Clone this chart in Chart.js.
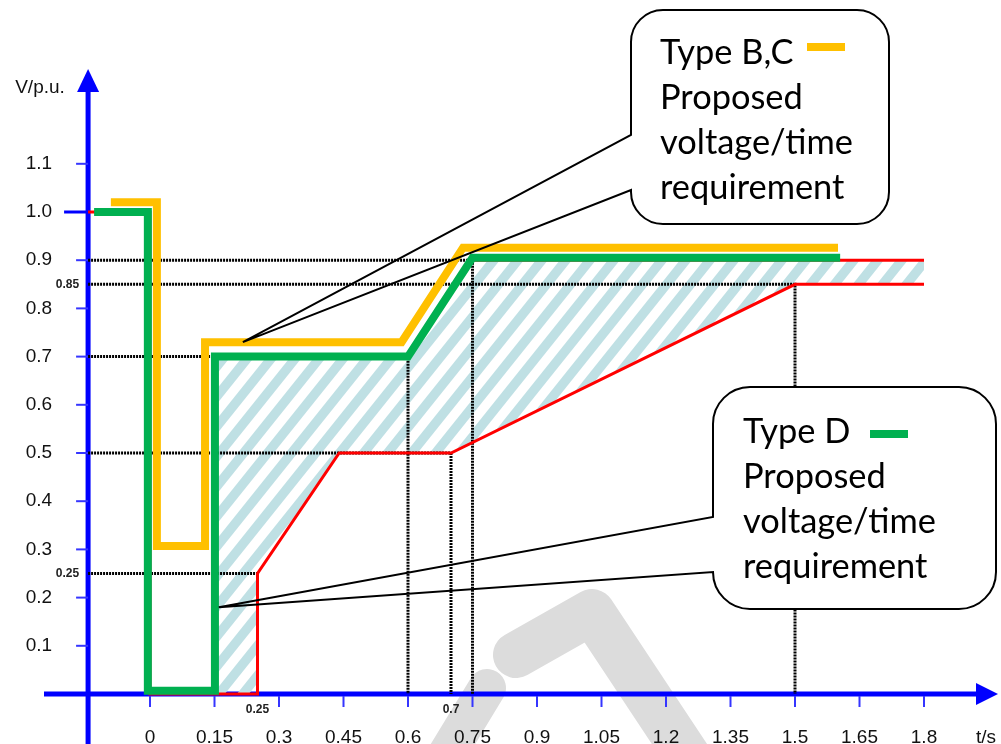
<!DOCTYPE html>
<html lang="en">
<head>
<meta charset="UTF-8">
<title>Proposed voltage/time requirement</title>
<script src="https://cdn.jsdelivr.net/npm/chart.js"></script>
<style>
  html, body { margin: 0; padding: 0; background: #fff; }
  canvas { display: block; }
</style>
</head>
<body>
<canvas id="chart" width="1001" height="744"></canvas>
<script>
  // tick values and labels
  const xTicks = [0, 0.15, 0.3, 0.45, 0.6, 0.75, 0.9, 1.05, 1.2, 1.35, 1.5, 1.65, 1.8];
  const xTickLabels = ['0', '0.15', '0.3', '0.45', '0.6', '0.75', '0.9', '1.05', '1.2', '1.35', '1.5', '1.65', '1.8'];
  const yTicks = [0.1, 0.2, 0.3, 0.4, 0.5, 0.6, 0.7, 0.8, 0.9, 1.0, 1.1];
  const yTickLabels = ['0.1', '0.2', '0.3', '0.4', '0.5', '0.6', '0.7', '0.8', '0.9', '1.0', '1.1'];

  // Type B,C proposed (yellow)
  const typeBCTime = [-0.091, 0.016, 0.016, 0.128, 0.128, 0.585, 0.728, 1.6];
  const typeBCVolt = [1.02, 1.02, 0.307, 0.307, 0.73, 0.73, 0.926, 0.926];

  // Type D proposed (green)
  const typeDTime = [-0.13, -0.005, -0.005, 0.151, 0.151, 0.6, 0.75, 1.605];
  const typeDVolt = [1.0, 1.0, 0.007, 0.007, 0.7, 0.7, 0.905, 0.905];

  // red limit curves
  const lowerTime = [-0.144, 0, 0, 0.25, 0.25, 0.44, 0.7, 1.5, 1.8];
  const lowerVolt = [1.0, 1.0, 0, 0, 0.25, 0.5, 0.5, 0.85, 0.85];
  const upperTime = [0.15, 0.15, 0.6, 0.75, 1.8];
  const upperVolt = [0, 0.7, 0.7, 0.9, 0.9];

  // hatched area between the limits
  const bandTime = [0.15, 0.15, 0.6, 0.75, 1.8, 1.8, 1.5, 0.7, 0.44, 0.25, 0.25];
  const bandVolt = [0, 0.7, 0.7, 0.9, 0.9, 0.85, 0.85, 0.5, 0.5, 0.25, 0];

  // dotted guide lines (level, then down to the time axis)
  const guideVolt = [0.9, 0.85, 0.7, 0.5, 0.25];
  const guideTime = [0.75, 1.5, 0.6, 0.7, 0.25];

  // small extra labels
  const markVolt = [0.85, 0.25];
  const markTime = [0.25, 0.7];

  const AXIS_T = -0.144;           // where the V axis crosses the time axis
  const X_MIN = -150 / 430, X_MAX = 851 / 430;
  const Y_MIN = -50 / 482, Y_MAX = 694 / 482;

  const BLUE = '#0000ff';
  const pts = (ts, vs) => ts.map((t, i) => ({ x: t, y: vs[i] }));

  function makeHatch() {
    const w = 24, h = 30, sw = 12;
    const c = document.createElement('canvas');
    c.width = w; c.height = h;
    const g = c.getContext('2d');
    g.fillStyle = '#bfe0e4';
    for (const k of [-1, 0, 1]) {
      g.beginPath();
      g.moveTo(k * w, h);
      g.lineTo(k * w + w, 0);
      g.lineTo(k * w + w + sw, 0);
      g.lineTo(k * w + sw, h);
      g.closePath();
      g.fill();
    }
    return g.createPattern(c, 'repeat');
  }

  const guides = guideVolt.map((v, i) => ({
    label: 'guide ' + i,
    data: pts([AXIS_T, guideTime[i], guideTime[i]], [v, v, 0]),
    borderColor: '#000',
    borderWidth: 3,
    borderDash: [2, 1],
    order: 3
  }));

  // axes, ticks, labels and the faint watermark
  const axesPlugin = {
    id: 'axes',
    beforeDatasetsDraw(chart) {
      const { ctx, scales: { x, y } } = chart;
      const ax = x.getPixelForValue(AXIS_T);
      const ay = y.getPixelForValue(0);
      ctx.save();

      // watermark remains
      ctx.strokeStyle = '#dcdcdc';
      ctx.lineCap = 'round';
      ctx.lineJoin = 'round';
      ctx.lineWidth = 38;
      ctx.beginPath(); ctx.moveTo(436, 772); ctx.lineTo(487, 688); ctx.stroke();
      ctx.lineWidth = 46;
      ctx.beginPath(); ctx.moveTo(516, 655); ctx.lineTo(592, 612); ctx.lineTo(700, 775); ctx.stroke();

      // axes
      ctx.lineCap = 'butt';
      ctx.strokeStyle = BLUE;
      ctx.fillStyle = BLUE;
      ctx.lineWidth = 5;
      ctx.beginPath(); ctx.moveTo(ax, 744); ctx.lineTo(ax, 90); ctx.stroke();
      ctx.beginPath(); ctx.moveTo(ax - 11, 92); ctx.lineTo(ax + 11, 92); ctx.lineTo(ax, 69); ctx.closePath(); ctx.fill();
      ctx.beginPath(); ctx.moveTo(44, ay); ctx.lineTo(978, ay); ctx.stroke();
      ctx.beginPath(); ctx.moveTo(976, ay - 11); ctx.lineTo(976, ay + 11); ctx.lineTo(998, ay); ctx.closePath(); ctx.fill();

      // ticks
      yTicks.forEach(v => {
        const py = y.getPixelForValue(v);
        const long = v === 1.0;
        ctx.lineWidth = long ? 3 : 2;
        ctx.strokeStyle = long ? BLUE : '#3535ff';
        ctx.beginPath(); ctx.moveTo(ax - (long ? 24 : 12), py); ctx.lineTo(ax, py); ctx.stroke();
      });
      ctx.lineWidth = 2;
      ctx.strokeStyle = '#3535ff';
      xTicks.forEach(t => {
        const px = x.getPixelForValue(t);
        ctx.beginPath(); ctx.moveTo(px, ay + 2); ctx.lineTo(px, ay + 13); ctx.stroke();
      });

      // tick labels
      ctx.fillStyle = '#111';
      ctx.font = '19px "Liberation Sans", Arial, sans-serif';
      ctx.textAlign = 'right';
      ctx.textBaseline = 'middle';
      yTicks.forEach((v, i) => ctx.fillText(yTickLabels[i], ax - 36, y.getPixelForValue(v)));
      ctx.textAlign = 'center';
      ctx.textBaseline = 'alphabetic';
      xTicks.forEach((t, i) => ctx.fillText(xTickLabels[i], x.getPixelForValue(t), ay + 49));
      ctx.fillText('t/s', 986, ay + 49);
      ctx.textBaseline = 'middle';
      ctx.fillText('V/p.u.', 40, 88);

      // small marker labels
      ctx.font = 'bold 12px "Liberation Sans", Arial, sans-serif';
      ctx.fillStyle = '#222';
      ctx.textAlign = 'right';
      markVolt.forEach(v => ctx.fillText(String(v), ax - 9, y.getPixelForValue(v)));
      ctx.textAlign = 'center';
      markTime.forEach(t => ctx.fillText(String(t), x.getPixelForValue(t), ay + 16));
      ctx.restore();
    }
  };

  // speech-bubble callouts
  const callouts = [
    { box: [631, 10, 889, 224], r: 32, attach: [135, 190], tip: [0.216, 0.73],
      lines: ['Type B,C', 'Proposed', 'voltage/time', 'requirement'],
      textX: 660, baseY: 64, swatch: [807, 43, 38, 8], color: '#ffc000' },
    { box: [713, 387, 996, 609], r: 37, attach: [517, 572], tip: [0.16, 0.18],
      lines: ['Type D', 'Proposed', 'voltage/time', 'requirement'],
      textX: 743, baseY: 443, swatch: [870, 430, 38, 8], color: '#00b050' }
  ];

  const calloutPlugin = {
    id: 'callouts',
    afterDatasetsDraw(chart) {
      const { ctx, scales: { x, y } } = chart;
      ctx.save();
      ctx.font = '40px Lato';
      const fs = 40 * 193 / ctx.measureText('voltage/time').width;
      callouts.forEach(c => {
        const [x0, y0, x1, y1] = c.box, r = c.r;
        const tx = x.getPixelForValue(c.tip[0]), ty = y.getPixelForValue(c.tip[1]);
        ctx.fillStyle = '#fff';
        ctx.beginPath(); ctx.roundRect(x0, y0, x1 - x0, y1 - y0, r); ctx.fill();
        ctx.beginPath();
        ctx.moveTo(x0 + r, y0);
        ctx.lineTo(x1 - r, y0);
        ctx.arcTo(x1, y0, x1, y0 + r, r);
        ctx.lineTo(x1, y1 - r);
        ctx.arcTo(x1, y1, x1 - r, y1, r);
        ctx.lineTo(x0 + r, y1);
        ctx.arcTo(x0, y1, x0, y1 - r, r);
        ctx.lineTo(x0, c.attach[1]);
        ctx.lineTo(tx, ty);
        ctx.lineTo(x0, c.attach[0]);
        ctx.lineTo(x0, y0 + r);
        ctx.arcTo(x0, y0, x0 + r, y0, r);
        ctx.closePath();
        ctx.strokeStyle = '#000';
        ctx.lineWidth = 2;
        ctx.lineJoin = 'miter';
        ctx.stroke();

        ctx.fillStyle = '#000';
        ctx.font = fs.toFixed(1) + 'px Lato';
        ctx.textAlign = 'left';
        ctx.textBaseline = 'alphabetic';
        c.lines.forEach((s, i) => ctx.fillText(s, c.textX, c.baseY + i * 45));
        ctx.fillStyle = c.color;
        ctx.fillRect(...c.swatch);
      });
      ctx.restore();
    }
  };

  new Chart(document.getElementById('chart'), {
    type: 'line',
    data: {
      datasets: [
        { label: 'Type D', data: pts(typeDTime, typeDVolt), borderColor: '#00b050', borderWidth: 8, order: 0 },
        { label: 'Type B,C', data: pts(typeBCTime, typeBCVolt), borderColor: '#ffc000', borderWidth: 8, order: 1 },
        { label: 'Lower limit', data: pts(lowerTime, lowerVolt), borderColor: '#ff0000', borderWidth: 3, order: 2 },
        { label: 'Upper limit', data: pts(upperTime, upperVolt), borderColor: '#ff0000', borderWidth: 3, order: 2 },
        ...guides,
        { label: 'Band', data: pts(bandTime, bandVolt), borderColor: 'rgba(0,0,0,0)', borderWidth: 0,
          backgroundColor: makeHatch(), fill: 'shape', order: 5 }
      ]
    },
    options: {
      responsive: false,
      animation: false,
      devicePixelRatio: 1,
      layout: { padding: 0 },
      elements: {
        point: { radius: 0, hoverRadius: 0 },
        line: { tension: 0, borderJoinStyle: 'miter', borderCapStyle: 'butt' }
      },
      plugins: { legend: { display: false }, tooltip: { enabled: false } },
      scales: {
        x: { type: 'linear', min: X_MIN, max: X_MAX, display: false },
        y: { type: 'linear', min: Y_MIN, max: Y_MAX, display: false }
      }
    },
    plugins: [axesPlugin, calloutPlugin]
  });
</script>
</body>
</html>
